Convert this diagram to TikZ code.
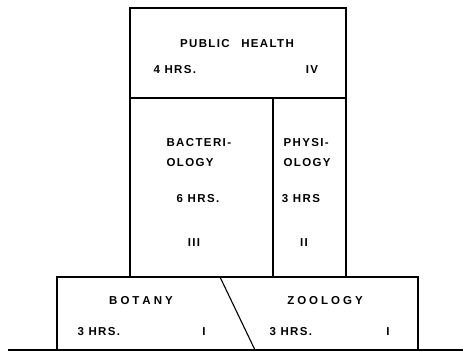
\documentclass[tikz,border=0pt]{standalone}
\usepackage{fontspec}
\setmainfont{Liberation Sans}[LetterSpace=12]
\newcommand{\gp}{\hspace{0.26em}}
\begin{document}
\begin{tikzpicture}[x=1pt,y=-1pt,
  lbl/.style={font=\bfseries\fontsize{11.5}{13}\selectfont, inner sep=0pt, text height=8.2pt, text depth=0pt},
  box/.style={draw, line width=1.1pt},
  every path/.style={line width=1.1pt}]
\useasboundingbox (0,0) rectangle (463,351);
% boxes
\draw[box] (130,8) rectangle (346,98);
\draw[box] (130,98) rectangle (273,277);
\draw[box] (273,98) rectangle (346,277);
\draw[box] (57,350) -- (57,277) -- (418,277) -- (418,350);
\coordinate (dtop) at (220,277);
\coordinate (dbot) at (255,350);
\draw (dtop) -- (dbot);
\coordinate (gl) at (8,350);
\coordinate (gr) at (463,350);
\draw (gl) -- (gr);
% labels
\node[lbl] (ph) at (237,43) {PUBLIC\hspace{1em}HEALTH};
\node[lbl, anchor=west] (phh) at (153,69) {4 HRS.};
\node[lbl] (phn) at (312,69) {IV};
\node[lbl, anchor=west] (b1) at (166,142) {BACTERI-};
\node[lbl, anchor=west] (b2) at (166,162) {OLOGY};
\node[lbl] (bh) at (198,198) {6 HRS.};
\node[lbl] (bn) at (194,242) {III};
\node[lbl, anchor=west] (p1) at (283,142) {PHYSI-};
\node[lbl, anchor=west] (p2) at (283,162) {OLOGY};
\node[lbl] (phy) at (301,198) {3 HRS};
\node[lbl] (pn) at (304,242) {II};
\node[lbl] (bot) at (141,300) {B\gp O\gp T\gp A\gp N\gp Y};
\node[lbl, anchor=west] (both) at (77,331) {3 HRS.};
\node[lbl] (botn) at (204,331) {I};
\node[lbl] (zoo) at (325,300) {Z\gp O\gp O\gp L\gp O\gp G\gp Y};
\node[lbl, anchor=west] (zooh) at (269,331) {3 HRS.};
\node[lbl] (zoon) at (388,331) {I};
\end{tikzpicture}
\end{document}
